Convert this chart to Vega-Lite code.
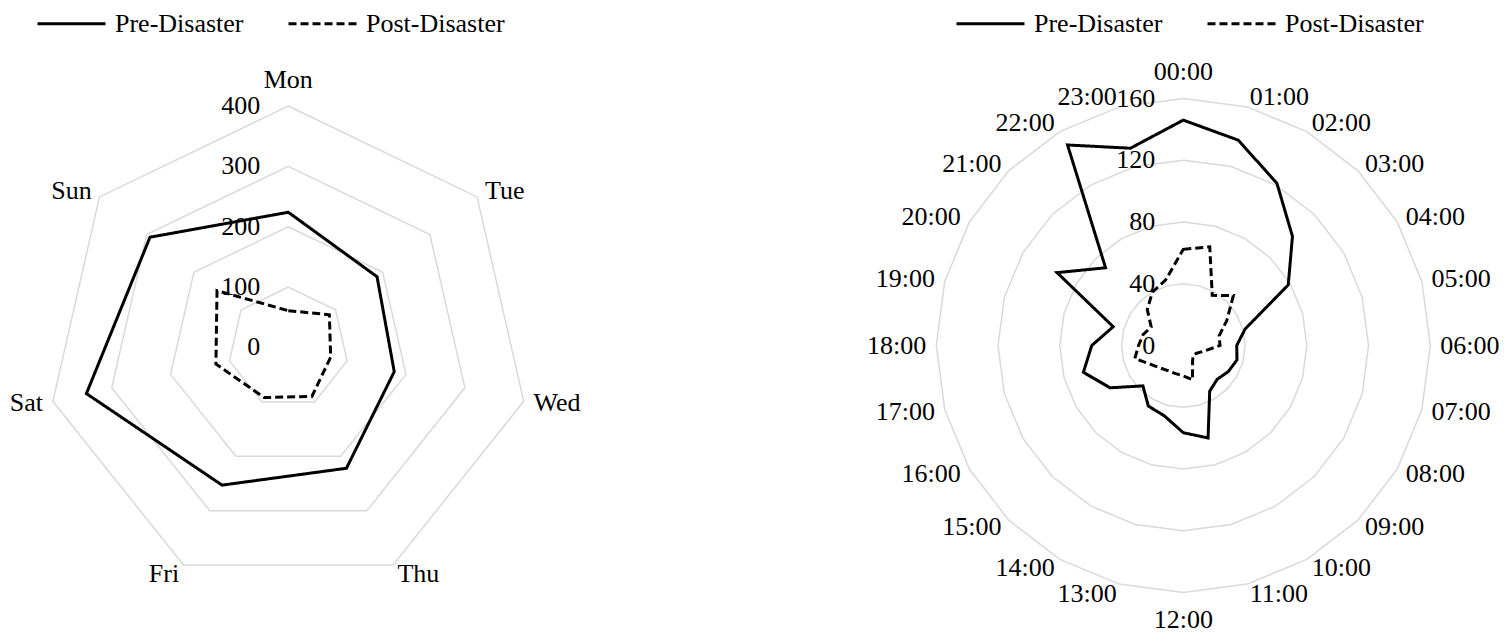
{
  "$schema": "https://vega.github.io/schema/vega-lite/v6.json",
  "padding": 0,
  "spacing": 0,
  "bounds": "flush",
  "background": "white",
  "config": {
    "view": {"stroke": null},
    "font": "Liberation Serif",
    "legend": {
      "orient": "none",
      "direction": "horizontal",
      "symbolType": "M-2,0H2",
      "symbolSize": 1156,
      "symbolStrokeWidth": 3,
      "symbolStrokeColor": "black",
      "labelFont": "Liberation Serif",
      "labelFontSize": 26,
      "labelColor": "black",
      "labelOffset": 25,
      "labelLimit": 400,
      "columnPadding": 38,
      "padding": 0,
      "titlePadding": 0
    }
  },
  "datasets": {
    "days": [
      {"day": "Mon", "series": "Pre-Disaster", "value": 224},
      {"day": "Tue", "series": "Pre-Disaster", "value": 188},
      {"day": "Wed", "series": "Pre-Disaster", "value": 180},
      {"day": "Thu", "series": "Pre-Disaster", "value": 222},
      {"day": "Fri", "series": "Pre-Disaster", "value": 253},
      {"day": "Sat", "series": "Pre-Disaster", "value": 343},
      {"day": "Sun", "series": "Pre-Disaster", "value": 293},
      {"day": "Mon", "series": "Post-Disaster", "value": 61},
      {"day": "Tue", "series": "Post-Disaster", "value": 87},
      {"day": "Wed", "series": "Post-Disaster", "value": 72},
      {"day": "Thu", "series": "Post-Disaster", "value": 90},
      {"day": "Fri", "series": "Post-Disaster", "value": 92},
      {"day": "Sat", "series": "Post-Disaster", "value": 123},
      {"day": "Sun", "series": "Post-Disaster", "value": 151}
    ],
    "dayTicks": [{"tick": 0}, {"tick": 100}, {"tick": 200}, {"tick": 300}, {"tick": 400}],
    "hours": [
      {"hour": "00:00", "series": "Pre-Disaster", "value": 146},
      {"hour": "01:00", "series": "Pre-Disaster", "value": 137.7},
      {"hour": "02:00", "series": "Pre-Disaster", "value": 121.3},
      {"hour": "03:00", "series": "Pre-Disaster", "value": 100},
      {"hour": "04:00", "series": "Pre-Disaster", "value": 78.5},
      {"hour": "05:00", "series": "Pre-Disaster", "value": 41.5},
      {"hour": "06:00", "series": "Pre-Disaster", "value": 34.6},
      {"hour": "07:00", "series": "Pre-Disaster", "value": 36},
      {"hour": "08:00", "series": "Pre-Disaster", "value": 33.7},
      {"hour": "09:00", "series": "Pre-Disaster", "value": 31},
      {"hour": "10:00", "series": "Pre-Disaster", "value": 34.2},
      {"hour": "11:00", "series": "Pre-Disaster", "value": 62},
      {"hour": "12:00", "series": "Pre-Disaster", "value": 56.5},
      {"hour": "13:00", "series": "Pre-Disaster", "value": 47.2},
      {"hour": "14:00", "series": "Pre-Disaster", "value": 45.3},
      {"hour": "15:00", "series": "Pre-Disaster", "value": 37},
      {"hour": "16:00", "series": "Pre-Disaster", "value": 54.8},
      {"hour": "17:00", "series": "Pre-Disaster", "value": 67},
      {"hour": "18:00", "series": "Pre-Disaster", "value": 59.3},
      {"hour": "19:00", "series": "Pre-Disaster", "value": 47},
      {"hour": "20:00", "series": "Pre-Disaster", "value": 94.4},
      {"hour": "21:00", "series": "Pre-Disaster", "value": 71.2},
      {"hour": "22:00", "series": "Pre-Disaster", "value": 150},
      {"hour": "23:00", "series": "Pre-Disaster", "value": 132.3},
      {"hour": "00:00", "series": "Post-Disaster", "value": 62.3},
      {"hour": "01:00", "series": "Post-Disaster", "value": 66.2},
      {"hour": "02:00", "series": "Post-Disaster", "value": 37.5},
      {"hour": "03:00", "series": "Post-Disaster", "value": 45.9},
      {"hour": "04:00", "series": "Post-Disaster", "value": 32.6},
      {"hour": "05:00", "series": "Post-Disaster", "value": 24},
      {"hour": "06:00", "series": "Post-Disaster", "value": 23.8},
      {"hour": "07:00", "series": "Post-Disaster", "value": 14},
      {"hour": "08:00", "series": "Post-Disaster", "value": 10},
      {"hour": "09:00", "series": "Post-Disaster", "value": 9},
      {"hour": "10:00", "series": "Post-Disaster", "value": 12},
      {"hour": "11:00", "series": "Post-Disaster", "value": 23},
      {"hour": "12:00", "series": "Post-Disaster", "value": 19.7},
      {"hour": "13:00", "series": "Post-Disaster", "value": 18.9},
      {"hour": "14:00", "series": "Post-Disaster", "value": 19},
      {"hour": "15:00", "series": "Post-Disaster", "value": 20.7},
      {"hour": "16:00", "series": "Post-Disaster", "value": 24.4},
      {"hour": "17:00", "series": "Post-Disaster", "value": 32.5},
      {"hour": "18:00", "series": "Post-Disaster", "value": 29},
      {"hour": "19:00", "series": "Post-Disaster", "value": 27},
      {"hour": "20:00", "series": "Post-Disaster", "value": 24},
      {"hour": "21:00", "series": "Post-Disaster", "value": 33},
      {"hour": "22:00", "series": "Post-Disaster", "value": 40},
      {"hour": "23:00", "series": "Post-Disaster", "value": 44}
    ],
    "hourTicks": [{"tick": 0}, {"tick": 40}, {"tick": 80}, {"tick": 120}, {"tick": 160}]
  },
  "hconcat": [
    {
      "width": 756,
      "height": 636,
      "layer": [
        {
          "data": {"name": "days"},
          "transform": [
            {"filter": "datum.series === 'Pre-Disaster'"},
            {"calculate": "[100, 200, 300, 400]", "as": "lv"},
            {"flatten": ["lv"]},
            {"calculate": "indexof(['Mon','Tue','Wed','Thu','Fri','Sat','Sun'], datum.day)", "as": "idx"},
            {"calculate": "datum.idx * 2 * PI / 7", "as": "ang"},
            {"calculate": "datum.lv / 400 * sin(datum.ang)", "as": "px"},
            {"calculate": "datum.lv / 400 * cos(datum.ang)", "as": "py"}
          ],
          "mark": {"type": "line", "interpolate": "linear-closed", "color": "#d9d9d9", "strokeWidth": 1.5},
          "encoding": {
            "x": {"field": "px", "type": "quantitative", "scale": {"domain": [-1.1938, 1.9367], "nice": false, "zero": false}, "axis": null},
            "y": {"field": "py", "type": "quantitative", "scale": {"domain": [-1.1946, 1.4389], "nice": false, "zero": false}, "axis": null},
            "detail": {"field": "lv", "type": "nominal"},
            "order": {"field": "idx", "type": "quantitative"}
          }
        },
        {
          "data": {"name": "dayTicks"},
          "transform": [
            {"calculate": "datum.tick / 400", "as": "py"},
            {"calculate": "0", "as": "px"}
          ],
          "mark": {"type": "text", "align": "right", "baseline": "middle", "dx": -28, "fontSize": 26, "font": "Liberation Serif", "color": "black"},
          "encoding": {
            "x": {"field": "px", "type": "quantitative"},
            "y": {"field": "py", "type": "quantitative"},
            "text": {"field": "tick", "type": "nominal"}
          }
        },
        {
          "data": {"name": "days"},
          "transform": [
            {"calculate": "indexof(['Mon','Tue','Wed','Thu','Fri','Sat','Sun'], datum.day)", "as": "idx"},
            {"calculate": "datum.idx * 2 * PI / 7", "as": "ang"},
            {"calculate": "datum.value / 400 * sin(datum.ang)", "as": "px"},
            {"calculate": "datum.value / 400 * cos(datum.ang)", "as": "py"}
          ],
          "mark": {"type": "line", "interpolate": "linear-closed", "color": "black", "strokeWidth": 3},
          "encoding": {
            "x": {"field": "px", "type": "quantitative"},
            "y": {"field": "py", "type": "quantitative"},
            "order": {"field": "idx", "type": "quantitative"},
            "strokeDash": {
              "field": "series",
              "type": "nominal",
              "scale": {"domain": ["Pre-Disaster", "Post-Disaster"], "range": [[1, 0], [8, 4]]},
              "legend": {"title": null, "legendX": 53, "legendY": 5}
            }
          }
        },
        {
          "data": {"name": "days"},
          "transform": [
            {"filter": "datum.series === 'Pre-Disaster'"},
            {"calculate": "indexof(['Mon','Tue','Wed','Thu','Fri','Sat','Sun'], datum.day)", "as": "idx"},
            {"filter": "datum.idx === 0"},
            {"calculate": "0", "as": "px"},
            {"calculate": "1.0745", "as": "py"}
          ],
          "mark": {"type": "text", "align": "center", "baseline": "alphabetic", "fontSize": 26, "font": "Liberation Serif", "color": "black"},
          "encoding": {
            "x": {"field": "px", "type": "quantitative"},
            "y": {"field": "py", "type": "quantitative"},
            "text": {"field": "day", "type": "nominal"}
          }
        },
        {
          "data": {"name": "days"},
          "transform": [
            {"filter": "datum.series === 'Pre-Disaster'"},
            {"calculate": "indexof(['Mon','Tue','Wed','Thu','Fri','Sat','Sun'], datum.day)", "as": "idx"},
            {"filter": "datum.idx >= 1 && datum.idx <= 3"},
            {"calculate": "datum.idx * 2 * PI / 7", "as": "ang"},
            {"calculate": "1.0414 * sin(datum.ang)", "as": "px"},
            {"calculate": "1.0414 * cos(datum.ang)", "as": "py"}
          ],
          "mark": {"type": "text", "align": "left", "baseline": "middle", "fontSize": 26, "font": "Liberation Serif", "color": "black"},
          "encoding": {
            "x": {"field": "px", "type": "quantitative"},
            "y": {"field": "py", "type": "quantitative"},
            "text": {"field": "day", "type": "nominal"}
          }
        },
        {
          "data": {"name": "days"},
          "transform": [
            {"filter": "datum.series === 'Pre-Disaster'"},
            {"calculate": "indexof(['Mon','Tue','Wed','Thu','Fri','Sat','Sun'], datum.day)", "as": "idx"},
            {"filter": "datum.idx >= 4"},
            {"calculate": "datum.idx * 2 * PI / 7", "as": "ang"},
            {"calculate": "1.0414 * sin(datum.ang)", "as": "px"},
            {"calculate": "1.0414 * cos(datum.ang)", "as": "py"}
          ],
          "mark": {"type": "text", "align": "right", "baseline": "middle", "fontSize": 26, "font": "Liberation Serif", "color": "black"},
          "encoding": {
            "x": {"field": "px", "type": "quantitative"},
            "y": {"field": "py", "type": "quantitative"},
            "text": {"field": "day", "type": "nominal"}
          }
        }
      ]
    },
    {
      "width": 756,
      "height": 636,
      "layer": [
        {
          "data": {"name": "hours"},
          "transform": [
            {"filter": "datum.series === 'Pre-Disaster'"},
            {"calculate": "[40, 80, 120, 160]", "as": "lv"},
            {"flatten": ["lv"]},
            {"calculate": "toNumber(slice(datum.hour, 0, 2))", "as": "idx"},
            {"calculate": "datum.idx * 2 * PI / 24", "as": "ang"},
            {"calculate": "datum.lv / 160 * sin(datum.ang)", "as": "px"},
            {"calculate": "datum.lv / 160 * cos(datum.ang)", "as": "py"}
          ],
          "mark": {"type": "line", "interpolate": "linear-closed", "color": "#d9d9d9", "strokeWidth": 1.5},
          "encoding": {
            "x": {"field": "px", "type": "quantitative", "scale": {"domain": [-1.7300, 1.3308], "nice": false, "zero": false}, "axis": null},
            "y": {"field": "py", "type": "quantitative", "scale": {"domain": [-1.1761, 1.3988], "nice": false, "zero": false}, "axis": null},
            "detail": {"field": "lv", "type": "nominal"},
            "order": {"field": "idx", "type": "quantitative"}
          }
        },
        {
          "data": {"name": "hourTicks"},
          "transform": [
            {"calculate": "datum.tick / 160", "as": "py"},
            {"calculate": "0", "as": "px"}
          ],
          "mark": {"type": "text", "align": "right", "baseline": "middle", "dx": -28, "fontSize": 26, "font": "Liberation Serif", "color": "black"},
          "encoding": {
            "x": {"field": "px", "type": "quantitative"},
            "y": {"field": "py", "type": "quantitative"},
            "text": {"field": "tick", "type": "nominal"}
          }
        },
        {
          "data": {"name": "hours"},
          "transform": [
            {"calculate": "toNumber(slice(datum.hour, 0, 2))", "as": "idx"},
            {"calculate": "datum.idx * 2 * PI / 24", "as": "ang"},
            {"calculate": "datum.value / 160 * sin(datum.ang)", "as": "px"},
            {"calculate": "datum.value / 160 * cos(datum.ang)", "as": "py"}
          ],
          "mark": {"type": "line", "interpolate": "linear-closed", "color": "black", "strokeWidth": 3},
          "encoding": {
            "x": {"field": "px", "type": "quantitative"},
            "y": {"field": "py", "type": "quantitative"},
            "order": {"field": "idx", "type": "quantitative"},
            "strokeDash": {
              "field": "series",
              "type": "nominal",
              "scale": {"domain": ["Pre-Disaster", "Post-Disaster"], "range": [[1, 0], [8, 4]]},
              "legend": {"title": null, "legendX": 216, "legendY": 5}
            }
          }
        },
        {
          "data": {"name": "hours"},
          "transform": [
            {"filter": "datum.series === 'Pre-Disaster'"},
            {"calculate": "toNumber(slice(datum.hour, 0, 2))", "as": "idx"},
            {"filter": "datum.idx === 0"},
            {"calculate": "0", "as": "px"},
            {"calculate": "1.0729", "as": "py"}
          ],
          "mark": {"type": "text", "align": "center", "baseline": "alphabetic", "fontSize": 26, "font": "Liberation Serif", "color": "black"},
          "encoding": {
            "x": {"field": "px", "type": "quantitative"},
            "y": {"field": "py", "type": "quantitative"},
            "text": {"field": "hour", "type": "nominal"}
          }
        },
        {
          "data": {"name": "hours"},
          "transform": [
            {"filter": "datum.series === 'Pre-Disaster'"},
            {"calculate": "toNumber(slice(datum.hour, 0, 2))", "as": "idx"},
            {"filter": "datum.idx === 12"},
            {"calculate": "0", "as": "px"},
            {"calculate": "-1.1425", "as": "py"}
          ],
          "mark": {"type": "text", "align": "center", "baseline": "alphabetic", "fontSize": 26, "font": "Liberation Serif", "color": "black"},
          "encoding": {
            "x": {"field": "px", "type": "quantitative"},
            "y": {"field": "py", "type": "quantitative"},
            "text": {"field": "hour", "type": "nominal"}
          }
        },
        {
          "data": {"name": "hours"},
          "transform": [
            {"filter": "datum.series === 'Pre-Disaster'"},
            {"calculate": "toNumber(slice(datum.hour, 0, 2))", "as": "idx"},
            {"filter": "datum.idx >= 1 && datum.idx <= 11"},
            {"calculate": "datum.idx * 2 * PI / 24", "as": "ang"},
            {"calculate": "1.0405 * sin(datum.ang)", "as": "px"},
            {"calculate": "1.0405 * cos(datum.ang)", "as": "py"}
          ],
          "mark": {"type": "text", "align": "left", "baseline": "middle", "fontSize": 26, "font": "Liberation Serif", "color": "black"},
          "encoding": {
            "x": {"field": "px", "type": "quantitative"},
            "y": {"field": "py", "type": "quantitative"},
            "text": {"field": "hour", "type": "nominal"}
          }
        },
        {
          "data": {"name": "hours"},
          "transform": [
            {"filter": "datum.series === 'Pre-Disaster'"},
            {"calculate": "toNumber(slice(datum.hour, 0, 2))", "as": "idx"},
            {"filter": "datum.idx >= 13"},
            {"calculate": "datum.idx * 2 * PI / 24", "as": "ang"},
            {"calculate": "1.0405 * sin(datum.ang)", "as": "px"},
            {"calculate": "1.0405 * cos(datum.ang)", "as": "py"}
          ],
          "mark": {"type": "text", "align": "right", "baseline": "middle", "fontSize": 26, "font": "Liberation Serif", "color": "black"},
          "encoding": {
            "x": {"field": "px", "type": "quantitative"},
            "y": {"field": "py", "type": "quantitative"},
            "text": {"field": "hour", "type": "nominal"}
          }
        }
      ]
    }
  ],
  "resolve": {
    "scale": {"x": "independent", "y": "independent", "strokeDash": "independent"},
    "legend": {"strokeDash": "independent"}
  }
}
